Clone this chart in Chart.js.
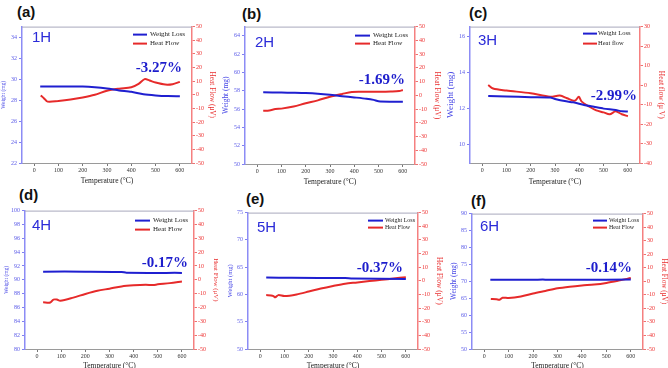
<!DOCTYPE html>
<html>
<head>
<meta charset="utf-8">
<script src="https://cdn.jsdelivr.net/npm/chart.js@4.4.0/dist/chart.umd.min.js"></script>
<style>
body { margin:0; background:#fff; width:668px; height:368px; overflow:hidden; position:relative; }
canvas { position:absolute; }
.tag { position:absolute; font:bold 15px "Liberation Sans", Arial, sans-serif; color:#111; line-height:15px; }
</style>
</head>
<body>
<div class="tag" style="left:17px;top:4px">(a)</div>
<div class="tag" style="left:242px;top:6px">(b)</div>
<div class="tag" style="left:469px;top:5px">(c)</div>
<div class="tag" style="left:19px;top:187px">(d)</div>
<div class="tag" style="left:246px;top:191px">(e)</div>
<div class="tag" style="left:471px;top:193px">(f)</div>
<script>
// tick labels
const xTicks = [0, 100, 200, 300, 400, 500, 600];
const heatTicks = [-50, -40, -30, -20, -10, 0, 10, 20, 30, 40, 50];
const heatTicksC = [-40, -35, -30, -25, -20, -15, -10, -5, 0, 5, 10, 15, 20, 25, 30];
const weightTicksA = [22, 24, 26, 28, 30, 32, 34];
const weightTicksB = [50, 52, 54, 56, 58, 60, 62, 64];
const weightTicksC = [10, 12, 14, 16];
const weightTicksD = [80, 82, 84, 86, 88, 90, 92, 94, 96, 98, 100];
const weightTicksE = [50, 55, 60, 65, 70, 75];
const weightTicksF = [50, 55, 60, 65, 70, 75, 80, 85, 90];

// (a) 1H
const tempW1 = [25, 100, 200, 250, 300, 350, 400, 450, 500, 550, 600];
const weight1 = [29.3, 29.3, 29.28, 29.22, 29.1, 28.92, 28.78, 28.55, 28.44, 28.38, 28.37];
const tempH1 = [27, 40, 55, 100, 150, 200, 250, 300, 350, 400, 430, 455, 475, 500, 540, 570, 600];
const heat1 = [-0.5, -2.5, -5, -4.5, -3.5, -2, 0, 3, 4.5, 5.5, 8, 11.5, 10.5, 9, 7.5, 7.8, 9.5];

// (b) 2H
const tempW2 = [25, 100, 150, 200, 250, 300, 350, 400, 450, 480, 500, 550, 600];
const weight2 = [57.82, 57.8, 57.78, 57.75, 57.68, 57.56, 57.4, 57.27, 57.13, 57.0, 56.85, 56.8, 56.8];
const tempH2 = [25, 50, 75, 100, 150, 200, 250, 300, 350, 390, 450, 500, 550, 585, 600];
const heat2 = [-11.2, -11, -10, -9.7, -8.2, -5.8, -3.7, -1, 1, 2.4, 2.5, 2.6, 2.8, 3.1, 3.8];

// (c) 3H
const tempW3 = [25, 100, 200, 280, 300, 340, 375, 420, 460, 500, 550, 575, 600];
const weight3 = [12.68, 12.66, 12.62, 12.6, 12.52, 12.4, 12.33, 12.18, 12.08, 11.98, 11.9, 11.83, 11.82];
const tempH3 = [25, 45, 100, 200, 280, 320, 350, 375, 385, 398, 410, 440, 470, 500, 525, 550, 575, 600];
const heat3 = [0, -1.8, -2.8, -4.2, -6, -5.4, -6.8, -8, -7.8, -6, -8.5, -11, -13, -14, -15, -13.5, -15, -16];

// (d) 4H
const tempW4 = [25, 200, 350, 370, 600];
const weight4 = [91.18, 91.18, 91.14, 91.02, 91.0];
const tempH4 = [25, 55, 68, 82, 96, 150, 200, 250, 300, 350, 400, 450, 480, 500, 550, 600];
const heat4 = [-16.2, -16.4, -14.3, -14.3, -15.2, -12.9, -10.2, -7.9, -6.4, -4.8, -4, -3.6, -3.8, -3.3, -2.4, -1.2];

// (e) 5H
const tempW5 = [25, 130, 350, 380, 600];
const weight5 = [63.1, 63.05, 63.0, 62.9, 62.85];
const tempH5 = [25, 45, 55, 62, 75, 100, 150, 200, 250, 300, 350, 400, 450, 500, 550, 600];
const heat5 = [-10.5, -10.7, -11.2, -12.1, -10.5, -11.2, -10, -7.9, -5.7, -3.8, -2.1, -1.2, -0.2, 0.7, 1.7, 2.6];

// (f) 6H
const tempW6 = [25, 200, 240, 260, 400, 600];
const weight6 = [70.45, 70.45, 70.5, 70.45, 70.45, 70.5];
const tempH6 = [27, 50, 63, 75, 100, 150, 200, 250, 300, 350, 400, 450, 500, 550, 600];
const heat6 = [-13.1, -13.3, -13.6, -12.1, -12.4, -11.2, -9, -7.1, -5.2, -4, -3.1, -2.4, -1.2, 0.5, 2.4];

const BLUE = '#1f1fd0';
const RED = '#e62a2a';

function pts(xs, ys) {
  return xs.map((x, i) => ({ x: x, y: ys[i] }));
}

// draws the frame top, sample name, loss value and the small legend
const overlay = {
  id: 'overlay',
  afterDraw(chart, args, o) {
    const a = chart.chartArea;
    const ctx = chart.ctx;
    ctx.save();
    ctx.strokeStyle = '#a8a8bc';
    ctx.lineWidth = 1;
    ctx.beginPath();
    ctx.moveTo(a.left, a.top + 0.5);
    ctx.lineTo(a.right, a.top + 0.5);
    ctx.stroke();

    ctx.textBaseline = 'middle';
    ctx.fillStyle = '#2b2bd8';
    ctx.textAlign = 'left';
    ctx.font = '15px "Liberation Sans", Arial, sans-serif';
    ctx.fillText(o.sample, a.left + o.sx, a.top + o.sy);

    ctx.fillStyle = '#1d1dcc';
    ctx.textAlign = 'right';
    ctx.font = 'bold 15px "Liberation Serif", "Times New Roman", serif';
    ctx.fillText(o.loss, a.right - o.px, a.top + o.py);

    const names = ['Weight Loss', o.heatName];
    const cols = [BLUE, RED];
    ctx.textAlign = 'left';
    ctx.font = o.lf + 'px "Liberation Serif", "Times New Roman", serif';
    for (let i = 0; i < 2; i++) {
      const y = a.top + o.ly[i];
      ctx.strokeStyle = cols[i];
      ctx.lineWidth = 2;
      ctx.beginPath();
      ctx.moveTo(a.right - o.lx[0], y);
      ctx.lineTo(a.right - o.lx[1], y);
      ctx.stroke();
      ctx.fillStyle = '#222';
      ctx.fillText(names[i], a.right - o.tx, y);
    }
    ctx.restore();
  }
};

const panels = [
  { l: 22, t: 25, r: 192, b: 163, lw: 22, rw: 24, bh: 23,
    tw: tempW1, w: weight1, th: tempH1, h: heat1,
    wMin: 22, wMax: 35, wTicks: weightTicksA, hMin: -50, hMax: 50, hTicks: heatTicks,
    wf: 5.5, hf: 7.3, heatTitle: 'Heat Flow (\u03bcV)',
    ov: { sample: '1H', sx: 10, sy: 11, loss: '-3.27%', px: 10, py: 41.5, heatName: 'Heat Flow', lx: [59, 45], ly: [8, 17], tx: 42, lf: 7 } },
  { l: 245, t: 25, r: 415, b: 164, lw: 23, rw: 26, bh: 23,
    tw: tempW2, w: weight2, th: tempH2, h: heat2,
    wMin: 50, wMax: 65, wTicks: weightTicksB, hMin: -50, hMax: 50, hTicks: heatTicks,
    wf: 7.4, hf: 7.5, heatTitle: 'Heat Flow (\u03bcV)',
    ov: { sample: '2H', sx: 10, sy: 16, loss: '-1.69%', px: 10, py: 53.5, heatName: 'Heat Flow', lx: [60, 45], ly: [9, 17], tx: 42, lf: 7 } },
  { l: 470, t: 25, r: 640, b: 163, lw: 25, rw: 25, bh: 24,
    tw: tempW3, w: weight3, th: tempH3, h: heat3,
    wMin: 8.95, wMax: 16.55, wTicks: weightTicksC, hMin: -40, hMax: 30, hTicks: heatTicksC,
    wf: 9.2, hf: 7.5, heatTitle: 'Heat flow (\u03bc V)',
    ov: { sample: '3H', sx: 8, sy: 14, loss: '-2.99%', px: 3, py: 70, heatName: 'Heat flow', lx: [57, 43], ly: [7, 17], tx: 42, lf: 6.5 } },
  { l: 25, t: 209, r: 194, b: 349, lw: 22, rw: 26, bh: 22,
    tw: tempW4, w: weight4, th: tempH4, h: heat4,
    wMin: 80, wMax: 100, wTicks: weightTicksD, hMin: -50, hMax: 50, hTicks: heatTicks,
    wf: 5.5, hf: 6.8, heatTitle: 'Heat Flow (\u03bcV)',
    ov: { sample: '4H', sx: 7, sy: 15.5, loss: '-0.17%', px: 6, py: 53, heatName: 'Heat Flow', lx: [59, 44], ly: [10, 19], tx: 41, lf: 7 } },
  { l: 248, t: 211, r: 418, b: 349, lw: 22, rw: 25, bh: 22,
    tw: tempW5, w: weight5, th: tempH5, h: heat5,
    wMin: 50, wMax: 75, wTicks: weightTicksE, hMin: -50, hMax: 50, hTicks: heatTicks,
    wf: 6.5, hf: 7.5, heatTitle: 'Heat Flow (\u03bcV)',
    ov: { sample: '5H', sx: 9, sy: 15, loss: '-0.37%', px: 15, py: 56, heatName: 'Heat Flow', lx: [50, 35], ly: [8, 15], tx: 33, lf: 6 } },
  { l: 472, t: 212, r: 643, b: 349, lw: 22, rw: 25, bh: 22,
    tw: tempW6, w: weight6, th: tempH6, h: heat6,
    wMin: 50, wMax: 90, wTicks: weightTicksF, hMin: -50, hMax: 50, hTicks: heatTicks,
    wf: 7.4, hf: 7.2, heatTitle: 'Heat Flow (\u03bcV)',
    ov: { sample: '6H', sx: 8, sy: 13, loss: '-0.14%', px: 11, py: 55, heatName: 'Heat Flow', lx: [50, 36], ly: [7, 14], tx: 34, lf: 6 } }
];

const TOP = 4;
const serif = '"Liberation Serif", "Times New Roman", serif';

panels.forEach(p => {
  const cv = document.createElement('canvas');
  const cw = p.r - p.l + p.lw + p.rw;
  const ch = p.b - p.t + TOP + p.bh;
  cv.width = cw;
  cv.height = ch;
  cv.style.left = (p.l - p.lw) + 'px';
  cv.style.top = (p.t - TOP) + 'px';
  cv.style.width = cw + 'px';
  cv.style.height = ch + 'px';
  document.body.appendChild(cv);

  new Chart(cv.getContext('2d'), {
    type: 'line',
    data: {
      datasets: [
        { label: 'Weight Loss', data: pts(p.tw, p.w), yAxisID: 'y', borderColor: BLUE, borderWidth: 2,
          pointRadius: 0, tension: 0.25, fill: false },
        { label: p.ov.heatName, data: pts(p.th, p.h), yAxisID: 'y2', borderColor: RED, borderWidth: 2,
          pointRadius: 0, tension: 0.3, fill: false }
      ]
    },
    options: {
      responsive: false,
      devicePixelRatio: 1,
      animation: false,
      layout: { padding: { top: TOP, left: 0, right: 0, bottom: 0 } },
      plugins: { legend: { display: false }, tooltip: { enabled: false }, overlay: p.ov },
      scales: {
        x: {
          type: 'linear', min: -50, max: 650,
          afterBuildTicks: s => { s.ticks = xTicks.map(v => ({ value: v })); },
          afterFit: s => { s.height = p.bh; },
          grid: { display: true, drawOnChartArea: false, drawTicks: true, tickLength: 3, color: '#777' },
          border: { display: true, color: '#9a9a9a', width: 1 },
          ticks: { padding: 1, color: '#333', font: { family: serif, size: 6 }, maxRotation: 0 },
          title: { display: true, text: 'Temperature (\u00b0C)', color: '#222', padding: 0,
                   font: { family: serif, size: 7.5 } }
        },
        y: {
          position: 'left', min: p.wMin, max: p.wMax,
          afterBuildTicks: s => { s.ticks = p.wTicks.map(v => ({ value: v })); },
          afterFit: s => { s.width = p.lw; },
          grid: { display: true, drawOnChartArea: false, drawTicks: true, tickLength: 3, color: '#8080f0' },
          border: { display: true, color: '#8c8cf5', width: 1.5 },
          ticks: { padding: 2, color: '#5a5ae8', font: { family: serif, size: 6 } },
          title: { display: true, text: 'Weight (mg)', color: '#4a4ae6', padding: 0,
                   font: { family: serif, size: p.wf } }
        },
        y2: {
          position: 'right', min: p.hMin, max: p.hMax,
          afterBuildTicks: s => { s.ticks = p.hTicks.map(v => ({ value: v })); },
          afterFit: s => { s.width = p.rw; },
          grid: { display: true, drawOnChartArea: false, drawTicks: true, tickLength: 3, color: '#f07070' },
          border: { display: true, color: '#f58080', width: 1.5 },
          ticks: { padding: 1, color: '#ee3030', font: { family: serif, size: 6 } },
          title: { display: true, text: p.heatTitle, color: '#e83030', padding: 0,
                   font: { family: serif, size: p.hf } }
        }
      }
    },
    plugins: [overlay]
  });
});
</script>
</body>
</html>
